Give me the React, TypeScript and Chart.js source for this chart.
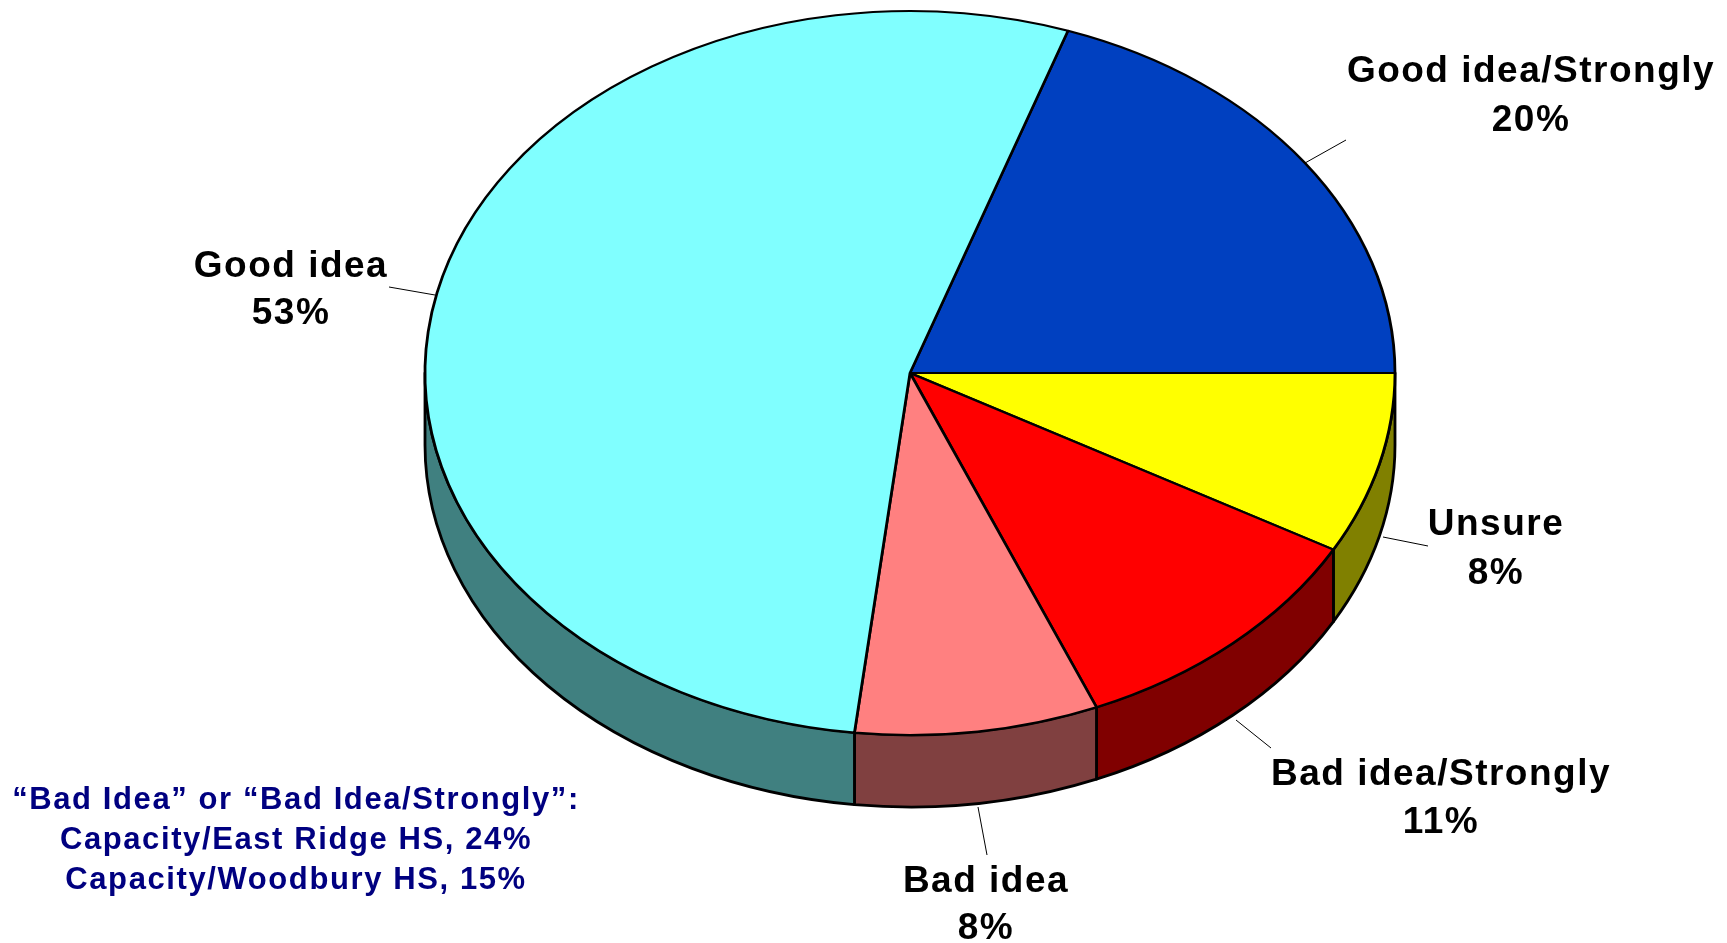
import React, { useEffect, useRef } from 'react';
import { Chart, registerables } from 'chart.js';

Chart.register(...registerables);

// ---- data ----
const categories = ['Good idea/Strongly', 'Unsure', 'Bad idea/Strongly', 'Bad idea', 'Good idea'];
const values = [19.7, 8.1, 10.6, 8.1, 53.4];
const topColors = ['#0040C0', '#FFFF00', '#FF0000', '#FF8080', '#80FFFF'];
const sideColors = ['#002060', '#808000', '#800000', '#804040', '#408080'];
const noteLines = [
  '\u201CBad Idea\u201D or \u201CBad Idea/Strongly\u201D:',
  'Capacity/East Ridge HS, 24%',
  'Capacity/Woodbury HS, 15%',
];

// ---- layout ----
const W = 1727;
const H = 943;
const CX = 910;
const CY = 373;
const RX = 485;
const RY = 362;
const DEPTH = 72;
const K = RY / RX;

const labelLayout = [
  { x: 1531, base: [82, 131], line: [1305, 163, 1346, 140] },
  { x: 1496, base: [535, 584], line: [1383, 537, 1428, 546] },
  { x: 1441, base: [785, 833], line: [1236, 720, 1271, 748] },
  { x: 986, base: [892, 939], line: [978, 807, 987, 855] },
  { x: 291, base: [277, 324], line: [389, 287, 435, 295] },
];
const noteLayout = { x: 296, base: [809, 849, 889] };

const total = values.reduce((s, v) => s + v, 0);
// first slice ends exactly at 3 o'clock
const rotationDeg = 90 - (values[0] / total) * 360;

const pie3d = {
  id: 'pie3d',
  beforeDatasetsDraw(chart: any) {
    const ctx = chart.ctx as CanvasRenderingContext2D;
    const meta = chart.getDatasetMeta(0);
    ctx.save();
    meta.data.forEach((arc: any, i: number) => {
      const { x, y, startAngle, endAngle, outerRadius } = arc.getProps(
        ['x', 'y', 'startAngle', 'endAngle', 'outerRadius'],
        true
      );
      const rx = outerRadius;
      const ry = outerRadius * K;
      for (let k = -1; k <= 1; k++) {
        const lo = Math.max(startAngle, 2 * Math.PI * k);
        const hi = Math.min(endAngle, 2 * Math.PI * k + Math.PI);
        if (hi - lo <= 1e-6) continue;
        ctx.beginPath();
        ctx.ellipse(x, y, rx, ry, 0, lo, hi, false);
        ctx.lineTo(x + rx * Math.cos(hi), y + ry * Math.sin(hi) + DEPTH);
        ctx.ellipse(x, y + DEPTH, rx, ry, 0, hi, lo, true);
        ctx.closePath();
        ctx.fillStyle = sideColors[i];
        ctx.fill();
        ctx.lineWidth = 2.8;
        ctx.strokeStyle = '#000';
        ctx.lineJoin = 'round';
        ctx.stroke();
      }
    });
    ctx.restore();
    const a = meta.data[0];
    ctx.save();
    ctx.translate(a.x, a.y);
    ctx.scale(1, K);
    ctx.translate(-a.x, -a.y);
  },
  afterDatasetsDraw(chart: any) {
    chart.ctx.restore();
  },
  afterDraw(chart: any) {
    const ctx = chart.ctx as CanvasRenderingContext2D;
    ctx.save();
    // leader lines
    ctx.strokeStyle = '#000';
    ctx.lineWidth = 1;
    labelLayout.forEach((l) => {
      ctx.beginPath();
      ctx.moveTo(l.line[0], l.line[1]);
      ctx.lineTo(l.line[2], l.line[3]);
      ctx.stroke();
    });
    // labels
    ctx.fillStyle = '#000';
    ctx.textAlign = 'center';
    ctx.textBaseline = 'alphabetic';
    ctx.font = 'bold 37px "Liberation Sans", Arial, sans-serif';
    (ctx as any).letterSpacing = '1.5px';
    categories.forEach((c, i) => {
      const l = labelLayout[i];
      ctx.fillText(c, l.x, l.base[0]);
      ctx.fillText(Math.round(values[i]) + '%', l.x, l.base[1]);
    });
    // note
    ctx.fillStyle = '#000080';
    ctx.font = 'bold 31px "Liberation Sans", Arial, sans-serif';
    (ctx as any).letterSpacing = '1.6px';
    noteLines.forEach((t, i) => {
      ctx.fillText(t, noteLayout.x, noteLayout.base[i]);
    });
    ctx.restore();
  },
};

export default function App() {
  const ref = useRef<HTMLCanvasElement | null>(null);
  useEffect(() => {
    if (!ref.current) return;
    const chart = new Chart(ref.current, {
      type: 'pie',
      data: {
        labels: categories,
        datasets: [
          {
            data: values,
            backgroundColor: topColors,
            borderColor: '#000',
            borderWidth: 2.8,
            clip: false as any,
          } as any,
        ],
      },
      options: {
        responsive: false,
        devicePixelRatio: 1,
        animation: false,
        events: [],
        rotation: rotationDeg,
        radius: RX,
        layout: {
          padding: { left: 2 * CX - W, right: 0, top: 0, bottom: H - 2 * CY },
        },
        plugins: {
          legend: { display: false },
          tooltip: { enabled: false },
        },
      } as any,
      plugins: [pie3d as any],
    });
    return () => chart.destroy();
  }, []);
  return (
    <div style={{ position: 'fixed', left: 0, top: 0, width: W, height: H, background: '#fff' }}>
      <canvas ref={ref} width={W} height={H} style={{ display: 'block' }} />
    </div>
  );
}
